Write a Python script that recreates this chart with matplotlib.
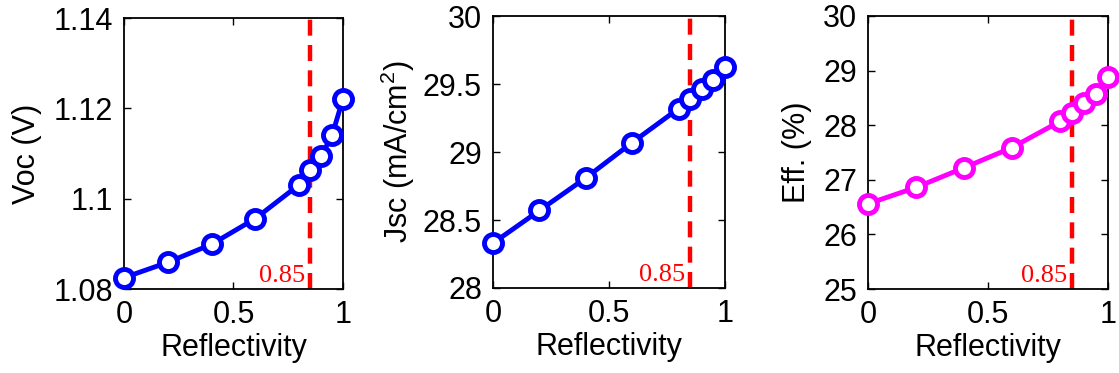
import numpy as np
import matplotlib.pyplot as plt
from matplotlib.ticker import FuncFormatter

plt.rcParams['font.family'] = ['Liberation Sans', 'DejaVu Sans']
plt.rcParams['mathtext.fontset'] = 'custom'
plt.rcParams['mathtext.rm'] = 'Liberation Sans'

# ---------------- data ----------------
refl = [0, 0.2, 0.4, 0.6, 0.8, 0.85, 0.9, 0.95, 1.0]
voc = [1.0825, 1.0859, 1.0899, 1.0956, 1.1031, 1.1063, 1.1094, 1.1140, 1.1221]
jsc = [28.33, 28.57, 28.81, 29.07, 29.32, 29.39, 29.46, 29.53, 29.625]
eff = [26.56, 26.86, 27.22, 27.59, 28.07, 28.23, 28.40, 28.57, 28.89]
r_mark = 0.85

panels = [
    (voc, '#0000ff', 'Voc (V)', (1.08, 1.14), [1.08, 1.10, 1.12, 1.14], 8),
    (jsc, '#0000ff', r'Jsc (mA/cm$^\mathregular{2}$)', (28, 30), [28, 28.5, 29, 29.5, 30], 4),
    (eff, '#ff00ff', 'Eff. (%)', (25, 30), [25, 26, 27, 28, 29, 30], 8),
]
# axes boxes in figure fractions
boxes = [
    [0.1108, 0.2252, 0.1957, 0.7265],
    [0.4406, 0.2279, 0.2073, 0.7290],
    [0.7757, 0.2252, 0.2145, 0.7320],
]

fig = plt.figure(figsize=(11.19, 3.73), dpi=100)

for (vals, col, lab, ylim, yt, lpad), box in zip(panels, boxes):
    ax = fig.add_axes(box)
    ax.axvline(r_mark, color='#ff0000', lw=3.2, dashes=(3.6, 2.1), zorder=1)
    ax.plot(refl, vals, '-o', color=col, lw=3.5, ms=13, mew=3.5,
            mfc='white', mec=col, clip_on=False, zorder=3)
    ax.text(r_mark - 0.022, 0.008, '0.85', color='#ff0000', fontsize=19,
            family='Liberation Serif', ha='right', va='bottom',
            transform=ax.get_xaxis_transform())
    ax.set_xlim(0, 1)
    ax.set_ylim(*ylim)
    ax.set_xticks([0, 0.5, 1])
    ax.set_yticks(yt)
    ax.xaxis.set_major_formatter(FuncFormatter(lambda v, p: f'{v:g}'))
    ax.yaxis.set_major_formatter(FuncFormatter(lambda v, p: f'{v:g}'))
    ax.tick_params(direction='in', length=5, width=1, labelsize=22,
                   top=True, right=True, pad=8)
    for s in ax.spines.values():
        s.set_linewidth(1.3)
    ax.set_xlabel('Reflectivity', fontsize=22, labelpad=2)
    ax.set_ylabel(lab, fontsize=22, labelpad=lpad)

fig.savefig('out.png', dpi=100)
